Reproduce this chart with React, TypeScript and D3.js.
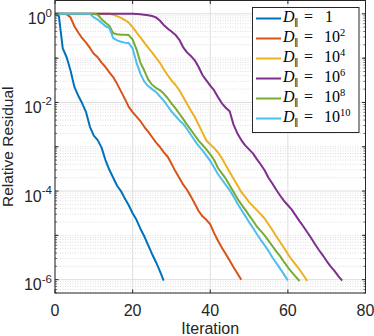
import React from "react";
import * as d3 from "d3";

// log10 of the relative residual, one entry per iteration (index = iteration)
const resD1 = [
  0, -0.05, -0.78, -0.98, -1.28, -1.65, -1.85, -2.02, -2.22, -2.55, -2.75,
  -2.85, -3.02, -3.3, -3.52, -3.7, -3.88, -4.0, -4.17, -4.32, -4.5, -4.65,
  -4.85, -5.02, -5.22, -5.42, -5.6, -5.8, -6.02,
];
const resD2 = [
  0, 0, 0, -0.01, -0.08, -0.28, -0.42, -0.55, -0.65, -0.77, -0.9, -0.98, -1.1,
  -1.2, -1.32, -1.43, -1.58, -1.75, -1.92, -2.1, -2.22, -2.32, -2.42, -2.55,
  -2.66, -2.78, -2.9, -3.0, -3.12, -3.22, -3.38, -3.55, -3.7, -3.85, -3.97,
  -4.12, -4.28, -4.45, -4.57, -4.65, -4.75, -4.95, -5.12, -5.28, -5.42, -5.57,
  -5.72, -5.86, -6.0,
];
const resD4 = [
  0, 0, 0, 0, 0, 0, 0, 0, 0, 0, 0, 0, 0, 0, 0, -0.02, -0.05, -0.09, -0.14,
  -0.2, -0.3, -0.42, -0.53, -0.65, -0.76, -0.87, -0.99, -1.1, -1.25, -1.38,
  -1.5, -1.6, -1.72, -1.87, -2.03, -2.18, -2.33, -2.5, -2.68, -2.86, -2.95,
  -3.03, -3.13, -3.26, -3.42, -3.57, -3.72, -3.87, -4.02, -4.13, -4.25, -4.34,
  -4.43, -4.52, -4.62, -4.75, -4.88, -5.02, -5.15, -5.28, -5.42, -5.55, -5.66,
  -5.77, -5.9, -6.03,
];
const resD6 = [
  0, 0, 0, 0, 0, 0, 0, 0, 0, 0, 0, 0, 0, 0, 0, 0, 0, 0, 0, 0, 0, -0.005,
  -0.01, -0.02, -0.03, -0.05, -0.08, -0.15, -0.25, -0.33, -0.4, -0.47, -0.58,
  -0.75, -0.87, -0.95, -1.05, -1.2, -1.38, -1.5, -1.62, -1.73, -1.88, -2.02,
  -2.12, -2.2, -2.5, -2.7, -2.85, -2.97, -3.06, -3.15, -3.28, -3.4, -3.53,
  -3.7, -3.83, -3.97, -4.1, -4.22, -4.32, -4.42, -4.55, -4.68, -4.8, -4.93,
  -5.06, -5.2, -5.33, -5.45, -5.58, -5.7, -5.8, -5.92, -6.02,
];
const resD8 = [
  0, 0, 0, 0, 0, 0, 0, 0, 0, 0, 0, -0.02, -0.12, -0.2, -0.27, -0.44, -0.46,
  -0.47, -0.47, -0.48, -0.58, -0.8, -1.1, -1.28, -1.48, -1.6, -1.67, -1.72,
  -1.8, -1.9, -2.02, -2.13, -2.25, -2.37, -2.5, -2.62, -2.74, -2.86, -2.96,
  -3.06, -3.17, -3.3, -3.48, -3.6, -3.72, -3.87, -4.02, -4.17, -4.3, -4.42,
  -4.55, -4.67, -4.8, -4.9, -5.0, -5.12, -5.24, -5.36, -5.47, -5.6, -5.72,
  -5.83, -5.93, -6.03,
];
const resD10 = [
  0, 0, 0, 0, 0, 0, 0, 0, 0, 0, -0.08, -0.13, -0.2, -0.28, -0.32, -0.55, -0.6,
  -0.63, -0.65, -0.66, -0.78, -1.1, -1.35, -1.53, -1.63, -1.7, -1.76, -1.86,
  -1.96, -2.08, -2.2, -2.3, -2.4, -2.48, -2.6, -2.73, -2.86, -2.98, -3.08,
  -3.2, -3.32, -3.47, -3.62, -3.74, -3.86, -3.98, -4.12, -4.28, -4.42, -4.56,
  -4.7, -4.83, -4.97, -5.1, -5.22, -5.35, -5.5, -5.62, -5.75, -5.88, -6.02,
];

const seriesData = [resD1, resD2, resD4, resD6, resD8, resD10];
const seriesExp = ["", "2", "4", "6", "8", "10"]; // legend: D = 10^exp ("" -> 1)
const colors = ["#0072BD", "#D95319", "#EDB120", "#7E2F8E", "#77AC30", "#4DBEEE"];

const xTicks = [0, 20, 40, 60, 80];
const yTickExps = [0, -2, -4, -6];

const W = 374;
const H = 336;

export default function App() {
  const x = d3.scaleLinear().domain([0, 80]).range([55, 365.5]);
  const y = d3.scaleLog().domain([5e-7, 2]).range([293, 0.5]);

  const line = d3
    .line<number>()
    .x((d, i) => x(i))
    .y((d) => y(Math.pow(10, d)));

  // minor positions on the log axis (2..9 of each decade, plus odd decades)
  const minor: number[] = [];
  for (let e = -7; e <= 0; e++) {
    for (let k = 1; k <= 9; k++) {
      const v = k * Math.pow(10, e);
      if (v < 5e-7 || v > 2) continue;
      if (k === 1 && e % 2 === 0) continue;
      minor.push(v);
    }
  }
  const decades = d3.range(-6, 1).map((e) => Math.pow(10, e));

  const [left, right] = x.range();
  const top = 0.5;
  const bottom = 293;
  const axisColor = "#262626";
  const font = "'Liberation Sans', Arial, sans-serif";

  const legX = 252.5;
  const legY = 7.5;
  const rowY = (i: number) => legY + 11 + i * 20;

  return (
    <svg
      width={W}
      height={H}
      style={{ position: "absolute", left: 0, top: 0, background: "#fff" }}
    >
      {/* minor grid */}
      {minor.map((v, i) => (
        <line
          key={"mg" + i}
          x1={left}
          x2={right}
          y1={y(v)}
          y2={y(v)}
          stroke="#c8c8c8"
          strokeWidth={0.6}
          strokeDasharray="1,1.5"
        />
      ))}
      {/* major grid */}
      {yTickExps.map((e) => (
        <line
          key={"yg" + e}
          x1={left}
          x2={right}
          y1={y(Math.pow(10, e))}
          y2={y(Math.pow(10, e))}
          stroke="#dedede"
          strokeWidth={1}
        />
      ))}
      {xTicks.map((t) => (
        <line
          key={"xg" + t}
          x1={x(t)}
          x2={x(t)}
          y1={top}
          y2={bottom}
          stroke="#dedede"
          strokeWidth={1}
        />
      ))}

      {/* series */}
      {seriesData.map((s, i) => (
        <path
          key={"s" + i}
          d={line(s) || ""}
          fill="none"
          stroke={colors[i]}
          strokeWidth={2}
          strokeLinejoin="round"
        />
      ))}

      {/* axes box */}
      <rect
        x={left}
        y={top}
        width={right - left}
        height={bottom - top}
        fill="none"
        stroke={axisColor}
        strokeWidth={1}
      />
      {/* x ticks */}
      {xTicks.map((t) => (
        <g key={"xt" + t}>
          <line x1={x(t)} x2={x(t)} y1={bottom} y2={bottom - 3.5} stroke={axisColor} />
          <line x1={x(t)} x2={x(t)} y1={top} y2={top + 3.5} stroke={axisColor} />
          <text
            x={x(t)}
            y={316}
            textAnchor="middle"
            fontFamily={font}
            fontSize={16}
            fill={axisColor}
          >
            {t}
          </text>
        </g>
      ))}
      {/* y ticks */}
      {decades.map((v, i) => (
        <g key={"yd" + i}>
          <line x1={left} x2={left + 3.5} y1={y(v)} y2={y(v)} stroke={axisColor} />
          <line x1={right} x2={right - 3.5} y1={y(v)} y2={y(v)} stroke={axisColor} />
        </g>
      ))}
      {minor.map((v, i) => (
        <g key={"ym" + i}>
          <line x1={left} x2={left + 2} y1={y(v)} y2={y(v)} stroke={axisColor} strokeWidth={0.7} />
          <line x1={right} x2={right - 2} y1={y(v)} y2={y(v)} stroke={axisColor} strokeWidth={0.7} />
        </g>
      ))}
      {yTickExps.map((e) => (
        <text
          key={"yl" + e}
          x={52}
          y={y(Math.pow(10, e)) + 10.5}
          textAnchor="end"
          fontFamily={font}
          fontSize={16}
          fill={axisColor}
        >
          10
          <tspan dy={-7.5} fontSize={11.5}>
            {e}
          </tspan>
        </text>
      ))}

      {/* axis labels */}
      <text
        x={(left + right) / 2}
        y={334}
        textAnchor="middle"
        fontFamily={font}
        fontSize={16}
        fill={axisColor}
      >
        Iteration
      </text>
      <text
        transform={`translate(12.5, ${(top + bottom) / 2}) rotate(-90)`}
        textAnchor="middle"
        fontFamily={font}
        fontSize={15.5}
        fill={axisColor}
      >
        Relative Residual
      </text>

      {/* legend */}
      <rect
        x={legX}
        y={legY}
        width={106.5}
        height={125}
        fill="#fff"
        stroke={axisColor}
        strokeWidth={1}
      />
      {seriesExp.map((ex, i) => (
        <g key={"lg" + i}>
          <line
            x1={256}
            x2={281}
            y1={rowY(i)}
            y2={rowY(i)}
            stroke={colors[i]}
            strokeWidth={2}
          />
          <text
            x={283}
            y={rowY(i) + 3}
            fontFamily="'Liberation Serif', 'Times New Roman', serif"
            fontSize={16}
            fill="#000"
          >
            <tspan fontStyle="italic">D</tspan>
            <tspan x={294} dy={3.5} fontSize={9} fontFamily="'DejaVu Sans', sans-serif">
              ∥
            </tspan>
            <tspan x={304} dy={-3.5}>
              =
            </tspan>
            <tspan x={ex === "" ? 325 : 324}>{ex === "" ? "1" : "10"}</tspan>
            {ex !== "" && (
              <tspan dy={-6} fontSize={10.5}>
                {ex}
              </tspan>
            )}
          </text>
        </g>
      ))}
    </svg>
  );
}
